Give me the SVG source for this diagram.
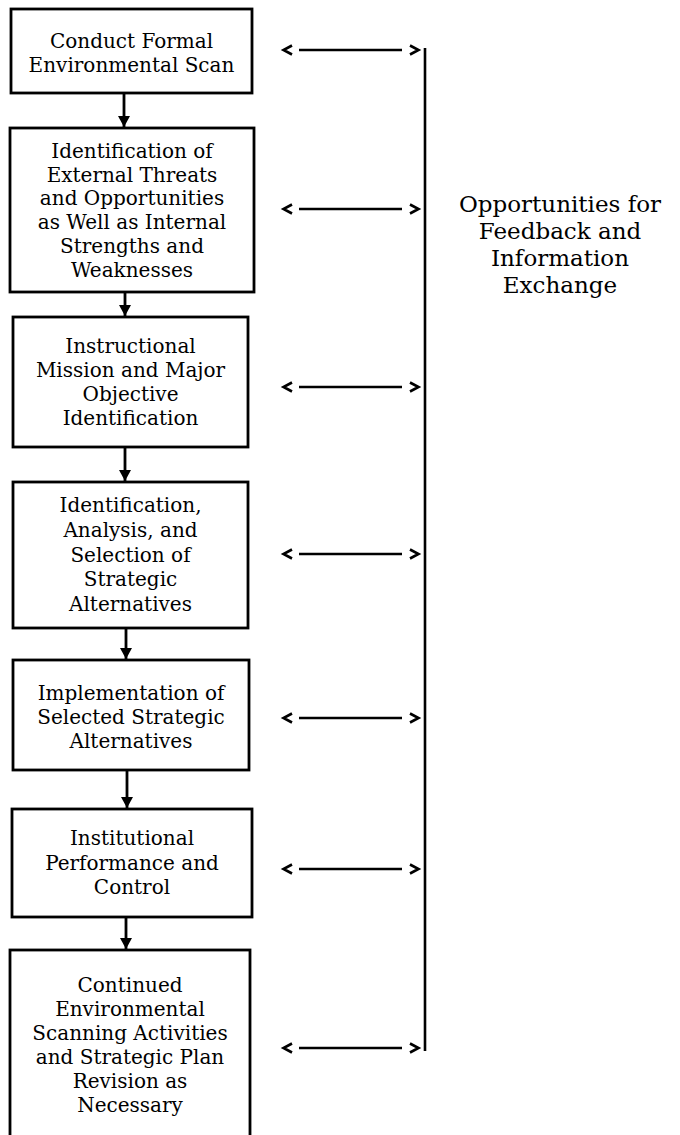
<svg xmlns="http://www.w3.org/2000/svg" width="680" height="1135" viewBox="0 0 680 1135">
<style>
.box{fill:#fff;stroke:#000;stroke-width:2.8}
.t{font-family:"DejaVu Serif","Liberation Serif",serif;font-size:20px;fill:#000;text-anchor:middle}
.lbl{font-family:"DejaVu Serif","Liberation Serif",serif;font-size:23px;fill:#000;text-anchor:middle}
.flow{stroke:#000;stroke-width:2.8;fill:none}
.fb{stroke:#000;stroke-width:2.6;fill:none}
.chev{stroke:#000;stroke-width:2.6;fill:none;stroke-linejoin:miter}
</style>
<defs>
<marker id="down" markerUnits="userSpaceOnUse" viewBox="0 0 11 12" refX="11" refY="6" markerWidth="11" markerHeight="12" orient="auto">
<path d="M0,0 L11,6 L0,12 Z" fill="#000"/>
</marker>
</defs>
<rect width="680" height="1135" fill="#fff"/>
<g id="connectors">
<line class="flow" x1="124" y1="93" x2="124" y2="127" marker-end="url(#down)"/>
<line class="flow" x1="125" y1="292" x2="125" y2="316" marker-end="url(#down)"/>
<line class="flow" x1="125" y1="447" x2="125" y2="481" marker-end="url(#down)"/>
<line class="flow" x1="126" y1="628" x2="126" y2="659" marker-end="url(#down)"/>
<line class="flow" x1="127" y1="770" x2="127" y2="808" marker-end="url(#down)"/>
<line class="flow" x1="126" y1="917" x2="126" y2="949" marker-end="url(#down)"/>
<line class="fb" x1="425" y1="48" x2="425" y2="1051"/>
<g id="fb1"><polyline class="chev" points="292,45.5 283.5,50 292,54.5"/><line class="fb" x1="299" y1="50" x2="402" y2="50"/><polyline class="chev" points="410,45.5 418.5,50 410,54.5"/></g>
<g id="fb2"><polyline class="chev" points="292,204.5 283.5,209 292,213.5"/><line class="fb" x1="299" y1="209" x2="402" y2="209"/><polyline class="chev" points="410,204.5 418.5,209 410,213.5"/></g>
<g id="fb3"><polyline class="chev" points="292,382.5 283.5,387 292,391.5"/><line class="fb" x1="299" y1="387" x2="402" y2="387"/><polyline class="chev" points="410,382.5 418.5,387 410,391.5"/></g>
<g id="fb4"><polyline class="chev" points="292,549.5 283.5,554 292,558.5"/><line class="fb" x1="299" y1="554" x2="402" y2="554"/><polyline class="chev" points="410,549.5 418.5,554 410,558.5"/></g>
<g id="fb5"><polyline class="chev" points="292,713.5 283.5,718 292,722.5"/><line class="fb" x1="299" y1="718" x2="402" y2="718"/><polyline class="chev" points="410,713.5 418.5,718 410,722.5"/></g>
<g id="fb6"><polyline class="chev" points="292,864.5 283.5,869 292,873.5"/><line class="fb" x1="299" y1="869" x2="402" y2="869"/><polyline class="chev" points="410,864.5 418.5,869 410,873.5"/></g>
<g id="fb7"><polyline class="chev" points="292,1043.5 283.5,1048 292,1052.5"/><line class="fb" x1="299" y1="1048" x2="402" y2="1048"/><polyline class="chev" points="410,1043.5 418.5,1048 410,1052.5"/></g>
</g>
<g id="n1">
<rect class="box" x="11" y="9" width="241" height="84"/>
<text class="t" x="131.5" y="48">Conduct Formal</text>
<text class="t" x="131.5" y="72">Environmental Scan</text>
</g>
<g id="n2">
<rect class="box" x="10" y="128" width="244" height="164"/>
<text class="t" x="132" y="158">Identification of</text>
<text class="t" x="132" y="182">External Threats</text>
<text class="t" x="132" y="205">and Opportunities</text>
<text class="t" x="132" y="229">as Well as Internal</text>
<text class="t" x="132" y="253">Strengths and</text>
<text class="t" x="132" y="277">Weaknesses</text>
</g>
<g id="n3">
<rect class="box" x="13" y="317" width="235" height="130"/>
<text class="t" x="130.5" y="353">Instructional</text>
<text class="t" x="130.5" y="377">Mission and Major</text>
<text class="t" x="130.5" y="401">Objective</text>
<text class="t" x="130.5" y="425">Identification</text>
</g>
<g id="n4">
<rect class="box" x="13" y="482" width="235" height="146"/>
<text class="t" x="130.5" y="512">Identification,</text>
<text class="t" x="130.5" y="537">Analysis, and</text>
<text class="t" x="130.5" y="562">Selection of</text>
<text class="t" x="130.5" y="586">Strategic</text>
<text class="t" x="130.5" y="611">Alternatives</text>
</g>
<g id="n5">
<rect class="box" x="13" y="660" width="236" height="110"/>
<text class="t" x="131" y="700">Implementation of</text>
<text class="t" x="131" y="724">Selected Strategic</text>
<text class="t" x="131" y="748">Alternatives</text>
</g>
<g id="n6">
<rect class="box" x="12" y="809" width="240" height="108"/>
<text class="t" x="132" y="845">Institutional</text>
<text class="t" x="132" y="870">Performance and</text>
<text class="t" x="132" y="894">Control</text>
</g>
<g id="n7">
<rect class="box" x="10" y="950" width="240" height="195"/>
<text class="t" x="130" y="992">Continued</text>
<text class="t" x="130" y="1016">Environmental</text>
<text class="t" x="130" y="1040">Scanning Activities</text>
<text class="t" x="130" y="1064">and Strategic Plan</text>
<text class="t" x="130" y="1088">Revision as</text>
<text class="t" x="130" y="1112">Necessary</text>
</g>
<g id="label">
<text class="lbl" x="560" y="212">Opportunities for</text>
<text class="lbl" x="560" y="239">Feedback and</text>
<text class="lbl" x="560" y="266">Information</text>
<text class="lbl" x="560" y="293">Exchange</text>
</g>
</svg>
